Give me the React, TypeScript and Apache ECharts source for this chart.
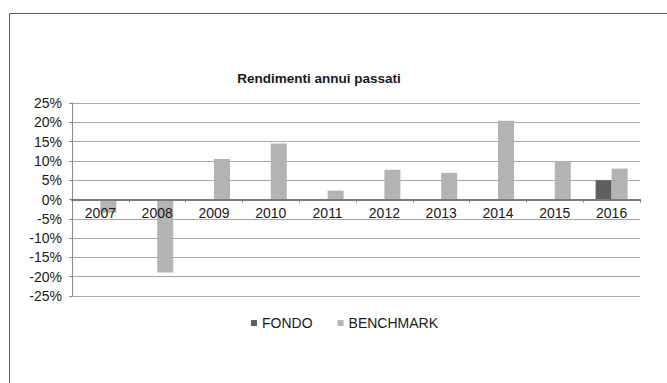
import React, { useEffect, useRef } from "react";
import * as echarts from "echarts";

const years = ["2007", "2008", "2009", "2010", "2011", "2012", "2013", "2014", "2015", "2016"];
const fondo = [null, null, null, null, null, null, null, null, null, 5.0];
const benchmark = [-3.4, -18.9, 10.5, 14.5, 2.3, 7.7, 6.9, 20.4, 10.0, 8.0];
const yMin = -25;
const yMax = 25;
const yStep = 5;

const FONT = "Liberation Sans, Arial, sans-serif";

export default function App() {
  const ref = useRef<HTMLDivElement>(null);
  useEffect(() => {
    document.body.style.margin = "0";
    if (!ref.current) return;
    const chart = echarts.init(ref.current, null, { renderer: "svg" });
    chart.setOption({
      animation: false,
      backgroundColor: "#ffffff",
      title: {
        text: "Rendimenti annui passati",
        left: 314,
        top: 66,
        textAlign: "center",
        textStyle: { fontFamily: FONT, fontSize: 13.5, fontWeight: "bold", color: "#1a1a1a" },
      },
      graphic: [
        {
          type: "rect",
          shape: { x: 9.5, y: 13.5, width: 700, height: 400 },
          style: { fill: "none", stroke: "#5a5a5a", lineWidth: 1 },
          silent: true,
        },
      ],
      legend: {
        left: 246,
        top: 311,
        icon: "rect",
        itemWidth: 6,
        itemHeight: 6,
        itemGap: 25,
        textStyle: { fontFamily: FONT, fontSize: 14, color: "#1a1a1a" },
        data: ["FONDO", "BENCHMARK"],
      },
      grid: { left: 72, right: 27, top: 103, bottom: 87, containLabel: false },
      xAxis: {
        type: "category",
        data: years,
        position: "bottom",
        offset: -96.5,
        z: 5,
        axisLine: { onZero: false, lineStyle: { color: "#7a7a7a", width: 2 } },
        axisTick: { show: true, length: 3, lineStyle: { color: "#7a7a7a" } },
        axisLabel: { fontFamily: FONT, fontSize: 14, color: "#1a1a1a", margin: 6 },
      },
      yAxis: {
        type: "value",
        min: yMin,
        max: yMax,
        interval: yStep,
        axisLine: { show: true, lineStyle: { color: "#8a8a8a" } },
        axisTick: { show: true, length: 3, lineStyle: { color: "#8a8a8a" } },
        axisLabel: {
          fontFamily: FONT,
          fontSize: 14,
          color: "#1a1a1a",
          margin: 10,
          formatter: (v: number) => `${v}%`,
        },
        splitLine: { show: true, lineStyle: { color: "#a8a8a8", width: 1 } },
      },
      series: [
        {
          name: "FONDO",
          type: "bar",
          data: fondo,
          barWidth: 16,
          barGap: "0%",
          itemStyle: { color: "#5f5f5f" },
        },
        {
          name: "BENCHMARK",
          type: "bar",
          data: benchmark,
          barWidth: 16,
          barGap: "0%",
          itemStyle: { color: "#b3b3b3" },
        },
      ],
    });
    return () => chart.dispose();
  }, []);
  return <div ref={ref} style={{ width: 667, height: 383 }} />;
}
